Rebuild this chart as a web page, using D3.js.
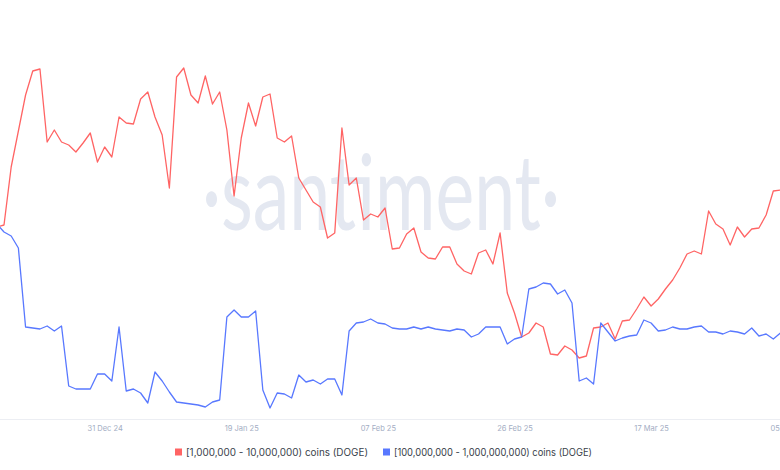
<!DOCTYPE html>
<html>
<head>
<meta charset="utf-8">
<script src="https://cdn.jsdelivr.net/npm/d3@7/dist/d3.min.js"></script>
<style>
  html, body { margin: 0; padding: 0; background: #ffffff; }
  svg { display: block; }
</style>
</head>
<body>
<script>
// ---- data ----
const startDate = "2024-12-16";   // first daily point
const endDate = "2025-04-04";     // last daily point
const seriesNames = ["[1,000,000 - 10,000,000) coins (DOGE)", "[100,000,000 - 1,000,000,000) coins (DOGE)"];
// relative balance levels (arbitrary units, no axis shown)
const redValues = [192,194,252,288,324,348,350,277,289,277,274,267,276,286,257,272,262,302,296,
  295,320,327,302,284,231,342,351,324,316,343,315,327,289,223,281,316,293,
  322,325,281,277,283,241,229,217,212,181,186,291,234,241,199,205,202,211,
  170,171,185,191,167,161,160,172,172,155,148,145,166,169,155,186,126,106,
  82,86,96,92,65,64,73,69,61,63,91,92,96,80,98,99,110,122,
  113,120,130,139,151,165,168,165,208,195,190,174,192,182,190,191,204,228,229];
const blueValues = [195,187,183,171,92,91,90,93,88,93,33,30,30,30,45,45,38,92,28,
  30,26,16,47,38,27,17,16,15,14,12,17,19,102,109,102,102,108,
  29,11,26,25,21,44,37,39,35,40,40,24,88,96,97,100,96,95,
  91,90,90,92,90,92,90,89,88,90,89,82,85,92,92,92,75,80,
  82,130,132,136,135,125,129,116,38,41,35,96,87,78,81,83,84,99,
  96,88,89,92,90,90,92,93,87,87,85,88,87,85,91,83,85,80,86];
const tickDates = ["2024-12-31","2025-01-19","2025-02-07","2025-02-26","2025-03-17","2025-04-05"];
const colors = ["#ff6464", "#5878ff"];

// ---- chart ----
const W = 780, H = 470;
const parse = d3.utcParse("%Y-%m-%d");
const days = d3.utcDay.range(parse(startDate), d3.utcDay.offset(parse(endDate), 1));

const svg = d3.select("body").append("svg").attr("width", W).attr("height", H);

const x = d3.scaleUtc()
  .domain([parse("2024-12-17"), parse(endDate)])
  .range([4, 780.5]);
const y = d3.scaleLinear().domain([0, 400]).range([419, 19]);

svg.append("defs").append("clipPath").attr("id", "plot")
  .append("rect").attr("x", 0).attr("y", 0).attr("width", W).attr("height", 419);

// watermark
svg.append("text")
  .attr("x", 381).attr("y", 230)
  .attr("text-anchor", "middle")
  .attr("font-family", "Lato, 'Open Sans', sans-serif")
  .attr("font-weight", 400)
  .attr("font-size", 104)
  .attr("textLength", 358)
  .attr("lengthAdjust", "spacingAndGlyphs")
  .attr("fill", "#e4e8f1")
  .text("·santiment·");

// x axis
const xAxis = d3.axisBottom(x)
  .tickValues(tickDates.map(parse))
  .tickFormat(d3.utcFormat("%d %b %y"))
  .tickSize(0)
  .tickPadding(7);
const ax = svg.append("g").attr("transform", "translate(0,419)").call(xAxis);
ax.select(".domain").remove();
ax.selectAll("text")
  .attr("font-family", "Inter, 'Open Sans', sans-serif")
  .attr("font-size", 7.5)
  .attr("fill", "#a3adc3");
svg.append("line").attr("x1", 0).attr("x2", W).attr("y1", 419.5).attr("y2", 419.5)
  .attr("stroke", "#eceef3").attr("stroke-width", 1);

// lines
const series = [redValues, blueValues];
const line = d3.line().x((d, i) => x(days[i])).y(d => y(d));
const g = svg.append("g").attr("clip-path", "url(#plot)");
series.forEach((vals, si) => {
  g.append("path")
    .datum(vals)
    .attr("fill", "none")
    .attr("stroke", colors[si])
    .attr("stroke-width", 1.3)
    .attr("stroke-linejoin", "round")
    .attr("d", line);
});

// legend
const legendX = [175, 383];
const legendLen = [182, 198];
const lg = svg.append("g");
seriesNames.forEach((name, i) => {
  const item = lg.append("g").attr("transform", `translate(${legendX[i]},452)`);
  item.append("rect").attr("x", 0).attr("y", -3.5).attr("width", 7).attr("height", 7).attr("fill", colors[i]);
  item.append("text").attr("x", 11).attr("y", 0).attr("dy", "0.35em")
    .attr("font-family", "Inter, 'Open Sans', sans-serif")
    .attr("font-size", 10)
    .attr("textLength", legendLen[i])
    .attr("lengthAdjust", "spacingAndGlyphs")
    .attr("fill", "#3a3f4b")
    .text(name);
});
</script>
</body>
</html>
